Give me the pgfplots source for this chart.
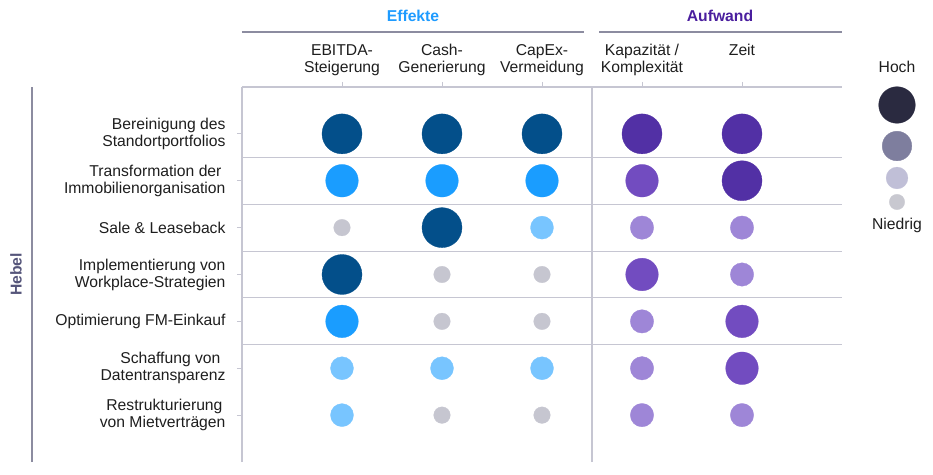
\documentclass[border=0pt]{standalone}
\usepackage{fontspec}
\setmainfont{Liberation Sans}
\usepackage{pgfplots}
\pgfplotsset{compat=1.18}
\definecolor{txt}{HTML}{1E1E1E}
\definecolor{gridgray}{HTML}{C6C6D2}
\definecolor{headgray}{HTML}{8C8CA0}
\definecolor{hebel}{HTML}{55557A}
\definecolor{effcol}{HTML}{1E9BFF}
\definecolor{aufcol}{HTML}{4A1E9E}
\definecolor{eA}{HTML}{034F8A}
\definecolor{eB}{HTML}{1A9DFF}
\definecolor{eC}{HTML}{78C5FF}
\definecolor{gr}{HTML}{C6C6D0}
\definecolor{aA}{HTML}{5230A5}
\definecolor{aB}{HTML}{724CC0}
\definecolor{aC}{HTML}{9E86D7}
\definecolor{lA}{HTML}{2A2A40}
\definecolor{lB}{HTML}{7E7E9E}
\definecolor{lC}{HTML}{C0BFD7}
\definecolor{lD}{HTML}{C8C8D0}
\newcommand{\ff}{\fontsize{15.7}{17}\selectfont}
\begin{document}
\begin{tikzpicture}
\path[use as bounding box] (-242pt,-12pt) rectangle (691pt,462pt);
\begin{axis}[
  at={(0,0)}, anchor=south west,
  scale only axis, width=600pt, height=375pt,
  xmin=0, xmax=6, ymin=0, ymax=8,
  axis x line=top, axis y line=left,
  axis line style={-, draw=gridgray, line width=1.1pt},
  tick align=outside, major tick length=5pt,
  tick style={draw=gridgray, line width=0.8pt},
  xtick={1,2,3,4,5},
  xticklabels={{EBITDA-\\Steigerung\strut},{Cash-\\Generierung\strut},{CapEx-\\Vermeidung\strut},{Kapazität /\\Komplexität\strut},{Zeit\\\strut}},
  xticklabel style={align=center, font=\ff, text=txt, yshift=1pt},
  ytick={1,2,3,4,5,6,7},
  yticklabels={{Restrukturierung\hspace*{3pt}\\von Mietverträgen},{Schaffung von\hspace*{5pt}\\Datentransparenz},{Optimierung FM-Einkauf},{Implementierung von\\Workplace-Strategien},{Sale \& Leaseback},{Transformation der\hspace*{4pt}\\Immobilienorganisation},{Bereinigung des\\Standortportfolios}},
  yticklabel style={align=right, font=\ff, text=txt, xshift=-8pt},
  clip=false,
  every axis plot/.append style={line width=0.3pt},
]
% grid lines
\draw[gridgray, line width=1.1pt] (axis cs:0,6.5) -- (axis cs:6,6.5);
\draw[gridgray, line width=1.1pt] (axis cs:0,5.5) -- (axis cs:6,5.5);
\draw[gridgray, line width=1.1pt] (axis cs:0,4.5) -- (axis cs:6,4.5);
\draw[gridgray, line width=1.1pt] (axis cs:0,3.5) -- (axis cs:6,3.5);
\draw[gridgray, line width=1.1pt] (axis cs:0,2.5) -- (axis cs:6,2.5);
\draw[gridgray, line width=1.3pt] (axis cs:3.5,0) -- (axis cs:3.5,8);
% headers
\draw[headgray, line width=1.2pt] (axis cs:0,9.173) -- (axis cs:3.42,9.173);
\draw[headgray, line width=1.2pt] (axis cs:3.57,9.173) -- (axis cs:6,9.173);
\node[font=\ff\bfseries, text=effcol] at (axis cs:1.71,9.515) {Effekte};
\node[font=\ff\bfseries, text=aufcol] at (axis cs:4.78,9.515) {Aufwand};
% Hebel
\draw[headgray, line width=1.2pt] (axis cs:-2.10,0) -- (axis cs:-2.10,8);
\node[font=\ff\bfseries, text=hebel, rotate=90] at (axis cs:-2.26,4) {Hebel};
% bubbles: Effekte
\addplot[only marks, mark=*, mark size=20pt, color=eA] coordinates {(1,7) (2,7) (3,7) (1,4) (2,5)};
\addplot[only marks, mark=*, mark size=16.3pt, color=eB] coordinates {(1,6) (2,6) (3,6) (1,3)};
\addplot[only marks, mark=*, mark size=11.5pt, color=eC] coordinates {(3,5) (1,2) (2,2) (3,2) (1,1)};
\addplot[only marks, mark=*, mark size=8.3pt, color=gr] coordinates {(1,5) (2,4) (3,4) (2,3) (3,3) (2,1) (3,1)};
% bubbles: Aufwand
\addplot[only marks, mark=*, mark size=20pt, color=aA] coordinates {(4,7) (5,7) (5,6)};
\addplot[only marks, mark=*, mark size=16.3pt, color=aB] coordinates {(4,6) (4,4) (5,3) (5,2)};
\addplot[only marks, mark=*, mark size=11.7pt, color=aC] coordinates {(4,5) (5,5) (5,4) (4,3) (4,2) (4,1) (5,1)};
% legend
\node[font=\ff, text=txt] at (axis cs:6.55,8.427) {Hoch};
\node[font=\ff, text=txt] at (axis cs:6.55,5.056) {Niedrig};
\addplot[only marks, mark=*, mark size=18.3pt, color=lA] coordinates {(6.55,7.616)};
\addplot[only marks, mark=*, mark size=14.8pt, color=lB] coordinates {(6.55,6.741)};
\addplot[only marks, mark=*, mark size=10.9pt, color=lC] coordinates {(6.55,6.059)};
\addplot[only marks, mark=*, mark size=7.7pt, color=lD] coordinates {(6.55,5.547)};
\end{axis}
\end{tikzpicture}
\end{document}
